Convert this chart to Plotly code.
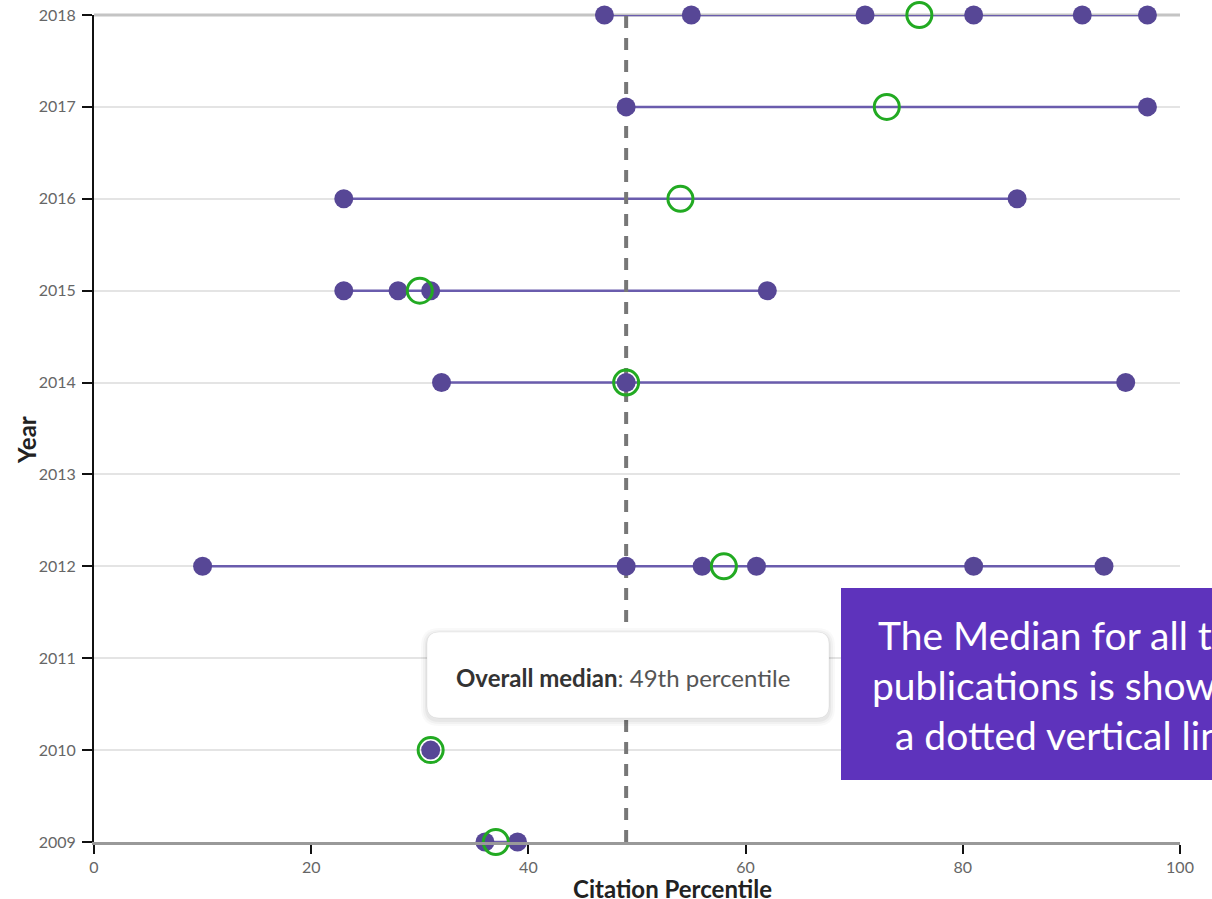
import plotly.graph_objects as go

# ---------------- data ----------------
years = [2018, 2017, 2016, 2015, 2014, 2012, 2010, 2009]
publication_percentiles = [
    [47, 55, 71, 81, 91, 97],
    [49, 97],
    [23, 85],
    [23, 28, 31, 62],
    [32, 49, 95],
    [10, 49, 56, 61, 81, 93],
    [31],
    [36, 39],
]
year_medians = [76, 73, 54, 30, 49, 58, 31, 37]
overall_median = 49
year_ticks = list(range(2009, 2019))
x_ticks = [0, 20, 40, 60, 80, 100]

# ---------------- styles ----------------
DOT = "#574796"
LINE = "#6a5cad"
GREEN = "#22aa22"
FONT = "Lato"

L, R, T, B = 94, 32, 15, 57
W, H = 1212, 899
PW, PH = W - L - R, H - T - B


def px(xp):
    return (xp - L) / PW


def py(yp):
    return (H - B - yp) / PH


fig = go.Figure()

# range lines per year (min -> max)
lx, ly = [], []
for yr, vals in zip(years, publication_percentiles):
    lx += [min(vals), max(vals), None]
    ly += [yr, yr, None]
fig.add_trace(go.Scatter(x=lx, y=ly, mode="lines", line=dict(color=LINE, width=2.5),
                         hoverinfo="skip", cliponaxis=False))

# overall median dashed line
fig.add_trace(go.Scatter(x=[overall_median, overall_median], y=[year_ticks[0], year_ticks[-1]],
                         mode="lines", line=dict(color="#777777", width=4, dash="12px,10px"),
                         hoverinfo="skip", cliponaxis=False))

# publication dots
dx, dy = [], []
for yr, vals in zip(years, publication_percentiles):
    dx += vals
    dy += [yr] * len(vals)
fig.add_trace(go.Scatter(x=dx, y=dy, mode="markers",
                         marker=dict(color=DOT, size=19, line=dict(width=0)),
                         cliponaxis=False))

# yearly medians (open green circles)
fig.add_trace(go.Scatter(x=year_medians, y=years, mode="markers",
                         marker=dict(symbol="circle-open", color=GREEN, size=25,
                                     line=dict(width=3, color=GREEN)),
                         cliponaxis=False))

shapes = []
# top border line
shapes.append(dict(type="line", xref="paper", yref="paper", x0=0, x1=1, y0=1, y1=1,
                   line=dict(color="#c4c4c4", width=3), layer="below"))


def rounded_rect(x0p, y0p, x1p, y1p, r):
    # pixel coords -> paper path
    X0, X1 = px(x0p), px(x1p)
    Y0, Y1 = py(y1p), py(y0p)  # bottom, top
    rx, ry = r / PW, r / PH
    return (f"M {X0+rx},{Y1} L {X1-rx},{Y1} Q {X1},{Y1} {X1},{Y1-ry} "
            f"L {X1},{Y0+ry} Q {X1},{Y0} {X1-rx},{Y0} L {X0+rx},{Y0} "
            f"Q {X0},{Y0} {X0},{Y0+ry} L {X0},{Y1-ry} Q {X0},{Y1} {X0+rx},{Y1} Z")


# tooltip shadow + box
for i, a in enumerate([0.025, 0.03, 0.04]):
    g = 6 - 2 * i
    shapes.append(dict(type="path", xref="paper", yref="paper",
                       path=rounded_rect(427 - g, 632 - g + 2, 829 + g, 718 + g + 2, 12 + g),
                       fillcolor=f"rgba(0,0,0,{a})", line=dict(width=0)))
shapes.append(dict(type="path", xref="paper", yref="paper",
                   path=rounded_rect(427, 632, 829, 718, 12),
                   fillcolor="white", line=dict(color="rgba(0,0,0,0.06)", width=1)))

# purple callout box
shapes.append(dict(type="rect", xref="paper", yref="paper",
                   x0=px(841), x1=px(1300), y0=py(780), y1=py(588),
                   fillcolor="#5E33BC", line=dict(width=0)))

annotations = [
    dict(text="<b>Overall median</b><span style='color:#555'>: 49th percentile</span>",
         xref="paper", yref="paper", x=px(454), y=py(677), xanchor="left", yanchor="middle",
         showarrow=False, font=dict(family=FONT, size=24, color="#333")),
    dict(text="The Median for all the", xref="paper", yref="paper", x=px(876), y=py(635),
         xanchor="left", yanchor="middle", showarrow=False,
         font=dict(family=FONT, size=39, color="white")),
    dict(text="publications is shown as", xref="paper", yref="paper", x=px(870), y=py(685),
         xanchor="left", yanchor="middle", showarrow=False,
         font=dict(family=FONT, size=39, color="white")),
    dict(text="a dotted vertical line", xref="paper", yref="paper", x=px(893), y=py(735),
         xanchor="left", yanchor="middle", showarrow=False,
         font=dict(family=FONT, size=39, color="white")),
    dict(text="<b>Year</b>", xref="paper", yref="paper", x=px(26), y=py(440), textangle=-90,
         xanchor="center", yanchor="middle", showarrow=False,
         font=dict(family=FONT, size=24, color="#222")),
    dict(text="<b>Citation Percentile</b>", xref="paper", yref="paper", x=px(672), y=py(888),
         xanchor="center", yanchor="middle", showarrow=False,
         font=dict(family=FONT, size=24, color="#222")),
]

fig.update_layout(
    width=W, height=H,
    margin=dict(l=L, r=R, t=T, b=B, pad=0, autoexpand=False),
    paper_bgcolor="white", plot_bgcolor="white",
    showlegend=False,
    shapes=shapes, annotations=annotations,
    font=dict(family=FONT, color="#666"),
    xaxis=dict(range=[0, 100], tickvals=x_ticks, showgrid=False, zeroline=False,
               automargin=False,
               showline=True, linecolor="#999", linewidth=3,
               ticks="outside", ticklen=9, tickwidth=2, tickcolor="#111",
               tickfont=dict(family=FONT, size=16, color="#666")),
    yaxis=dict(range=[year_ticks[0], year_ticks[-1]], tickvals=year_ticks,
               automargin=False,
               showgrid=True, gridcolor="#e4e4e4", gridwidth=1.5, zeroline=False,
               showline=True, linecolor="#111", linewidth=2,
               ticks="outside", ticklen=10, tickwidth=2, tickcolor="#111",
               ticklabelstandoff=3,
               tickfont=dict(family=FONT, size=16, color="#666")),
    hovermode=False,
)

fig.write_html("out.html", config={"displayModeBar": False},
               post_script="document.body.style.margin='0';document.body.style.overflow='hidden';")
